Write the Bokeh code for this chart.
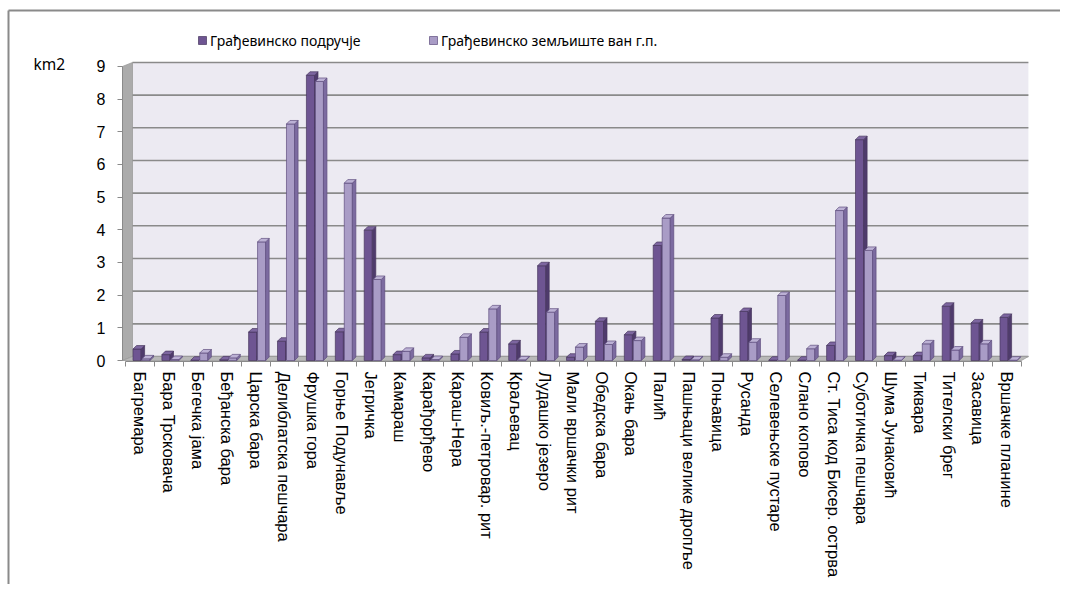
from bokeh.plotting import figure
from bokeh.models import FixedTicker, Legend, LegendItem, Label, Range1d
from bokeh.embed import file_html
from bokeh.resources import INLINE

categories = [
    "Багремара", "Бара Трсковача", "Бегечка јама", "Беђанска бара", "Царска бара",
    "Делиблатска пешчара", "Фрушка гора", "Горње Подунавље", "Јегричка", "Камараш",
    "Карађорђево", "Караш-Нера", "Ковиљ.-петровар. рит", "Краљевац", "Лудашко језеро",
    "Мали вршачки рит", "Обедска бара", "Окањ бара", "Палић", "Пашњаци велике дропље",
    "Поњавица", "Русанда", "Селевењске пустаре", "Слано копово", "Ст. Тиса код Бисер. острва",
    "Суботичка пешчара", "Шума Јунаковић", "Тиквара", "Тителски брег", "Засавица",
    "Вршачке планине",
]
gradjevinsko_podrucje = [
    0.35, 0.18, 0.01, 0.02, 0.87, 0.59, 8.73, 0.88, 3.99, 0.18,
    0.08, 0.20, 0.87, 0.51, 2.90, 0.10, 1.20, 0.79, 3.52, 0.03,
    1.30, 1.50, 0.01, 0.01, 0.46, 6.76, 0.15, 0.15, 1.66, 1.15,
    1.32,
]
zemljiste_van_gp = [
    0.05, 0.03, 0.23, 0.08, 3.63, 7.24, 8.54, 5.43, 2.48, 0.28,
    0.03, 0.71, 1.58, 0.02, 1.48, 0.41, 0.49, 0.61, 4.36, 0.02,
    0.10, 0.56, 1.99, 0.36, 4.59, 3.37, 0.01, 0.51, 0.32, 0.51,
    0.01,
]
y_ticks = [0, 1, 2, 3, 4, 5, 6, 7, 8, 9]
series_names = ["Грађевинско подручје", "Грађевинско земљиште ван г.п."]
unit_label = "km2"

# ---- geometry: the frame is the whole canvas; picture px -> data units ----
PXX = 28.9          # px per category
PXY = 32.67         # px per km2
W, H = 1060, 584
OX, OY = 0, 0       # canvas origin in the picture
n = len(categories)

def dx(px):     # picture x -> data x
    return -0.5 + (px - 125) / PXX

def dy(py):     # picture y -> data y
    return (360 - py) / PXY

x_lo, x_hi = dx(OX), dx(OX + W)
y_hi, y_lo = dy(OY), dy(OY + H)

p = figure(width=W, height=H, output_backend="svg", toolbar_location=None,
           x_range=Range1d(x_lo, x_hi), y_range=Range1d(y_lo, y_hi),
           min_border=0)
p.outline_line_color = None
p.xgrid.visible = False
p.ygrid.visible = False
p.background_fill_color = "white"
p.border_fill_color = "white"

# outer chart border (left and top, the rest lies beyond the window)
p.multi_line([[dx(8), dx(8)], [dx(8), dx(OX + W)]],
             [[dy(10), dy(OY + H)], [dy(10), dy(10)]],
             line_color="#8a8a8a", line_width=2)

# 3D wall / floor
dxw = 7 / PXX
dyw = 4 / PXY
x0, x1 = -0.5, n - 0.5
xs0 = dx(122)
top = y_ticks[-1]
p.patch([x0 + dxw, x1 + dxw, x1 + dxw, x0 + dxw], [dyw, dyw, top + dyw, top + dyw],
        fill_color="#ECEAF2", line_color=None)
p.patch([xs0, x0 + dxw, x0 + dxw, xs0], [0, dyw, top + dyw, top],
        fill_color="#ABABAB", line_color="#9a9a9a", line_width=0.8)
p.multi_line([[x0 + dxw, x1 + dxw] for _ in y_ticks], [[t + dyw, t + dyw] for t in y_ticks],
             line_color="#8a8a8a", line_width=1.6)
p.patch([xs0, x1, x1 + dxw, x0 + dxw], [0, 0, dyw, dyw],
        fill_color="#B8B8B8", line_color="#9a9a9a", line_width=0.8)

# 3D bars
bdx = 3.5 / PXX
bdy = 3.5 / PXY

def bars(vals, off0, off1, front, side, topc, edge):
    fx, fy, sx, sy, tx, ty = [], [], [], [], [], []
    for i, v in enumerate(vals):
        a, b = i + off0, i + off1
        fx.append([a, b, b, a]); fy.append([0, 0, v, v])
        sx.append([b, b + bdx, b + bdx, b]); sy.append([0, bdy, v + bdy, v])
        tx.append([a, b, b + bdx, a + bdx]); ty.append([v, v, v + bdy, v + bdy])
    rf = p.patches(fx, fy, fill_color=front, line_color=edge, line_width=0.7)
    p.patches(sx, sy, fill_color=side, line_color=edge, line_width=0.7)
    p.patches(tx, ty, fill_color=topc, line_color=edge, line_width=0.7)
    return rf

r1 = bars(gradjevinsko_podrucje, -0.24, 0.04, "#6E5592", "#4F3B6C", "#7D66A0", "#47365F")
r2 = bars(zemljiste_van_gp, 0.07, 0.35, "#A99CC6", "#7C6BA0", "#BCB1D5", "#5E4D7E")

# axes (fixed inside the frame)
xa = p.xaxis[0]
xa.fixed_location = dy(361)
xa.bounds = (x0, x1)
xa.ticker = FixedTicker(ticks=list(range(n)), minor_ticks=[i - 0.5 for i in range(n + 1)])
xa.major_label_overrides = {i: c for i, c in enumerate(categories)}
xa.major_label_orientation = "vertical"
xa.major_tick_line_color = None
xa.major_tick_out = 5
xa.minor_tick_out = 5
xa.minor_tick_in = 0
xa.minor_tick_line_color = "#8a8a8a"
xa.axis_line_color = "#8a8a8a"
xa.major_label_standoff = 5
xa.major_label_text_font = "Liberation Sans"
xa.major_label_text_font_size = "16.5px"
xa.major_label_text_color = "black"

ya = p.yaxis[0]
ya.fixed_location = xs0
ya.bounds = (0, top)
ya.ticker = FixedTicker(ticks=y_ticks)
ya.major_tick_out = 5
ya.major_tick_in = 0
ya.minor_tick_line_color = None
ya.major_tick_line_color = "#8a8a8a"
ya.axis_line_color = "#8a8a8a"
ya.major_label_standoff = 12
ya.major_label_text_font = "Liberation Sans"
ya.major_label_text_font_size = "16px"
ya.major_label_text_color = "black"

legend = Legend(items=[LegendItem(label=series_names[0], renderers=[r1]),
                       LegendItem(label=series_names[1], renderers=[r2])],
                orientation="horizontal", location=(197 - OX, OY + H - 50),
                padding=0, margin=0, label_width=183, label_height=20,
                spacing=35, glyph_width=10, glyph_height=10, label_standoff=3,
                border_line_color=None, background_fill_alpha=0,
                label_text_font="Noto Sans", label_text_font_size="14px",
                label_text_color="black")
p.add_layout(legend)

p.add_layout(Label(x=dx(33), y=dy(63), text=unit_label,
                   text_font="Noto Sans", text_font_size="15.5px",
                   text_baseline="alphabetic", text_align="left", text_color="black"))

open("out.html", "w").write(file_html(p, INLINE))
